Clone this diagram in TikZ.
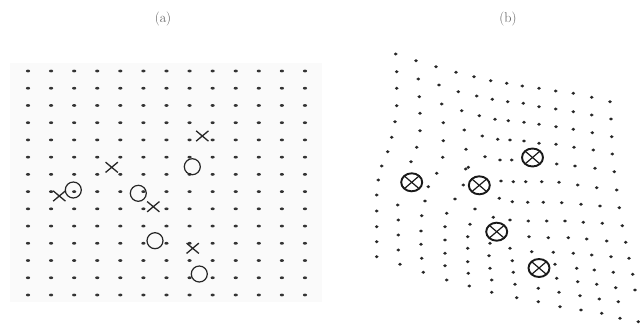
\documentclass[tikz,border=0pt]{standalone}
\usetikzlibrary{shapes.geometric,shapes.misc}
\begin{document}
\begin{tikzpicture}[x=0.5mm,y=-0.5mm,
  adot/.style={fill=black!80},
  bdot/.style={fill=black!85},
  lbl/.style={font=\fontsize{20}{24}\selectfont, text=black!65, inner sep=0},
  omark/.style={circle, draw=black!85, line width=0.6mm, minimum size=8mm, inner sep=0},
  xmark/.style={cross out, draw=black!85, line width=0.65mm, minimum width=5.5mm, minimum height=4.5mm, inner sep=0},
  otimes/.style={ellipse, draw=black!90, line width=0.95mm, minimum width=10.5mm, minimum height=9mm, inner sep=0,
    path picture={\draw[line width=0.6mm, black!90]
      (path picture bounding box.south west) -- (path picture bounding box.north east)
      (path picture bounding box.north west) -- (path picture bounding box.south east);}}
]
\useasboundingbox (0,0) rectangle (640,327);
% faint background of panel (a)
\fill[black!2] (10,63) rectangle (322,302);
% labels
\node[lbl] (la) at (163,19) {(a)};
\node[lbl] (lb) at (508,19) {(b)};
% panel (a) lattice
\foreach \i in {0,...,12}
  \foreach \j in {0,...,13}
    \fill[adot] ({28+23.08*\i},{71+17.23*\j}) ellipse [x radius=1.05mm, y radius=0.7mm];
% panel (a) markers
\node[xmark] (x1) at (202.3,136) {};
\node[omark] (o1) at (192.3,166.7) {};
\node[xmark] (x2) at (111.7,167.3) {};
\node[omark] (o2) at (73.3,190) {};
\node[xmark] (x3) at (59.3,196) {};
\node[omark] (o3) at (138.3,193.3) {};
\node[xmark] (x4) at (153.3,206.7) {};
\node[omark] (o4) at (155,240.7) {};
\node[xmark] (x5) at (192.7,248.3) {};
\node[omark] (o5) at (199.3,274) {};
% panel (b) distorted lattice
\foreach \x/\y in {
395.7/54, 416/60.7, 436/66.7, 456/72.3, 474/76.7, 490.7/80.7, 506.7/83.3,
396.7/71.7, 418.3/79, 439/85, 458.3/91.7, 476.7/96, 492.3/99.3, 507.7/101.7,
396.7/88.3, 419.3/96.7, 441.7/104, 461.7/110.7, 479.3/115.7, 495/119.3, 508.3/120.7,
396.7/105.7, 420/113.3, 443.3/122.7, 464.3/130, 482.3/136, 497.7/139.3, 510/140,
395/121.7, 420/130.7, 443.3/140.7, 466/149.3, 485/156.7, 500/160,
391.7/137.3, 416.7/147.3, 442.7/157.3, 468.3/167.3,
387.7/151.7, 411/161.7, 381.7/166,
522.3/86, 539/88.3, 555.7/91, 573.3/93.3, 591.7/97.3, 610/101.7,
523.3/103.3, 539/106.7, 555.7/109, 573.3/111.7, 591.7/115, 611/119,
524/122.3, 539/124.3, 556/126.7, 573.3/129.3, 592.3/132.7, 611.7/136.7,
524/141, 539/143.3, 556/144.3, 574/147.3, 593.3/150, 612.3/154,
511.7/160, 556.7/164, 575/166, 595/168.3, 614.3/171.7,
513.3/181.7, 525.7/181.7, 541.7/181.7, 559/182.3, 577.7/185, 596.7/187.7, 616.7/190,
512.3/201.7, 527.7/202.3, 543.3/202.3, 561.7/202.7, 581/204.3, 600/206, 619.3/207.7,
510/220, 528.3/221, 546.7/221, 565/221, 583.3/222.3, 602.3/223.3, 622.3/225.7,
529/236.7, 548.3/237.7, 568.3/237.7, 586.7/239, 606.7/241, 625.7/242.3,
510/248.3, 531.7/251.7, 553.3/252.3, 573.3/253.3, 591.7/255, 611/256.7, 629/258.3,
512.3/260.7, 555/264.3, 576.7/268.3, 594.3/270, 613.3/272.3, 632.7/274.3,
513.3/272.3, 556.7/278.3, 577.7/281.7, 596.7/284.3, 615.7/287.7, 635/290,
515/284.3, 538.3/288.3, 559/292.3, 580/295.7, 599.3/299, 618.3/301.7,
516.7/297.7, 538.3/301.7, 560/306.7, 581/310, 601.7/313.3, 620/318.3, 638.3/321.7,
378.3/180, 376.7/195, 376.7/211, 376.7/226.7, 376.7/241.7, 376.7/256.7,
397.7/205, 398.3/220, 398.3/235, 398.3/250, 400/264.3,
425/201, 421.7/215.7, 421/231, 421/244.3, 421.7/258.3, 423.3/272.3,
436.7/173.3, 428.3/186.7, 455/199, 446.7/213.3, 445/226.7, 445/240, 445/253.3, 445/265.7, 446.7/280,
465.7/169, 463.3/185, 475/209, 470/224.3, 467.7/236.7, 467.7/248.3, 467.7/261.7, 468.3/273.3, 469.3/286,
499.3/198.3, 501/181, 493.3/217.3, 490/243.3, 489/255.7, 490/268.3, 491.7/280, 491.7/292.3}
  \fill[bdot] (\x,\y) ellipse [x radius=0.95mm, y radius=0.8mm];
% panel (b) markers
\node[otimes] (t1) at (411.7,182.3) {};
\node[otimes] (t2) at (479.3,185.3) {};
\node[otimes] (t3) at (532.5,157.5) {};
\node[otimes] (t4) at (496.7,231.7) {};
\node[otimes] (t5) at (539,268) {};
\end{tikzpicture}
\end{document}
